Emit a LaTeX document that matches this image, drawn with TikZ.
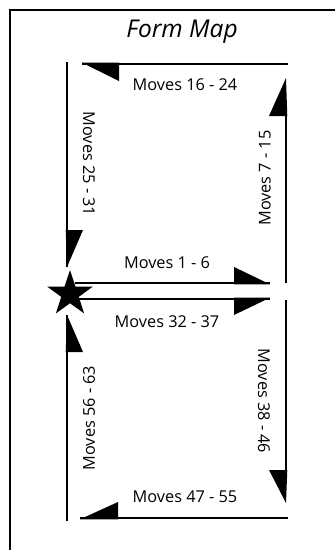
\documentclass[tikz,border=0pt]{standalone}
\usepackage{fontspec}
\setmainfont{Open Sans}
\usetikzlibrary{shapes.geometric}

\newcommand{\halfhead}[6]{%
	\fill (#1,#2) -- (#3,#4) -- (#5,#6) -- cycle;
}

\begin{document}
\begin{tikzpicture}[x=1pt, y=-1pt, line cap=butt,
	track/.style={line width=2.6pt},
	lbl/.style={font=\fontsize{16.3}{18}\selectfont, inner sep=0pt}]
	\useasboundingbox (0,0) rectangle (335,550);
	
	% -- Frame and title ------------------------------------------
	\draw[line width=2.2pt] (335,10) -- (10,10) -- (10,550);
	\node[font=\itshape\fontsize{24.5}{28}\selectfont] (title) at (182,32) {Form Map};
	
	% -- Start point ----------------------------------------------
	\node[star, star points=5, star point ratio=2.6, fill=black,
	minimum size=48pt, inner sep=0pt] (start) at (70,294) {};
	
	% -- Corners ---------------------------------------------------
	\coordinate (TL) at (67,62);
	\coordinate (TLa) at (82,64);
	\coordinate (TR) at (288,64);
	\coordinate (RTa) at (286,78);
	\coordinate (RTb) at (286,283);
	\coordinate (LTb) at (67,267);
	\coordinate (M1a) at (75,283);
	\coordinate (M1b) at (270,283);
	\coordinate (M2a) at (75,299);
	\coordinate (M2b) at (270,299);
	\coordinate (RBa) at (286,300);
	\coordinate (RBb) at (286,503);
	\coordinate (LBa) at (67,315);
	\coordinate (LBb) at (67,521);
	\coordinate (BLa) at (80,518);
	\coordinate (BR) at (288,518);
	
	% -- Upper loop ------------------------------------------------
	\draw[track] (M1a) -- (M1b);
	\halfhead{234}{267}{234}{284.3}{270}{284.3}
	\draw[track] (RTa |- 0,116) -- (RTb);
	\halfhead{286}{78}{287.3}{116}{269}{116}
	\draw[track] (TLa) -- (TR);
	\halfhead{82}{62.7}{119}{62.7}{119}{81}
	\draw[track] (TL) -- (LTb);
	\halfhead{65.7}{230}{83}{230}{67}{267}
	
	% -- Lower loop ------------------------------------------------
	\draw[track] (M2a) -- (M2b);
	\halfhead{234}{297.7}{270}{297.7}{234}{315}
	\draw[track] (RBa) -- (RBa |- 0,470);
	\halfhead{269}{470}{287.3}{470}{286}{503}
	\draw[track] (BLa) -- (BR);
	\halfhead{80}{519.3}{118}{519.3}{118}{502}
	\draw[track] (LBa) -- (LBb);
	\halfhead{67}{315}{65.7}{352}{83}{352}
	
	% -- Labels ----------------------------------------------------
	\node[lbl] (m1) at (167,263) {Moves 1 - 6};
	\node[lbl, rotate=90] (m7) at (265,178) {Moves 7 - 15};
	\node[lbl] (m16) at (185,85) {Moves 16 - 24};
	\node[lbl, rotate=-90] (m25) at (89,164) {Moves 25 - 31};
	\node[lbl] (m32) at (167,322) {Moves 32 - 37};
	\node[lbl, rotate=-90] (m38) at (264,401) {Moves 38 - 46};
	\node[lbl] (m47) at (185,497) {Moves 47 - 55};
	\node[lbl, rotate=90] (m56) at (89,418) {Moves 56 - 63};
	
\end{tikzpicture}
\end{document}
